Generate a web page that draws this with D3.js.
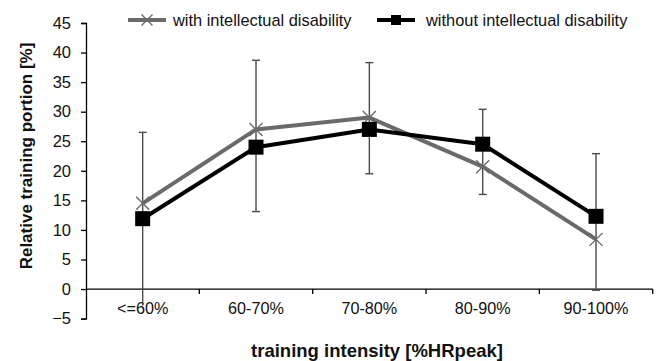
<!DOCTYPE html>
<html>
<head>
<meta charset="utf-8">
<script src="https://cdn.jsdelivr.net/npm/d3@7"></script>
<style>
  html, body { margin: 0; padding: 0; background: #fff; }
  svg { display: block; font-family: "Liberation Sans", Arial, sans-serif; }
</style>
</head>
<body>
<svg id="chart" width="660" height="361"></svg>
<script>
// Training intensity zones
const categories = ["<=60%", "60-70%", "70-80%", "80-90%", "90-100%"];

// Relative training portion [%] per zone
const withID = [14.5, 27.0, 29.0, 20.7, 8.4];
const withoutID = [11.9, 24.0, 27.0, 24.5, 12.3];

// Standard deviation whiskers (lower / upper end)
const errLow = [-2.8, 13.1, 19.5, 16.0, -0.2];
const errHigh = [26.5, 38.7, 38.3, 30.4, 22.9];

const yTicks = [-5, 0, 5, 10, 15, 20, 25, 30, 35, 40, 45];
const seriesNames = ["with intellectual disability", "without intellectual disability"];

const svg = d3.select("#chart");
const plotLeft = 86, plotRight = 652.7, plotTop = 23, plotBottom = 318.6;

const x = d3.scaleBand().domain(categories).range([plotLeft, plotRight]);
const y = d3.scaleLinear().domain([-5, 45]).range([plotBottom, plotTop]);
const cx = d => x(d) + x.bandwidth() / 2;

const grayLine = "#6a6a6a";
const errColor = "#4a4a4a";

// y axis
const yAxis = svg.append("g")
  .attr("transform", `translate(${plotLeft},0)`)
  .call(d3.axisLeft(y).tickValues(yTicks).tickSize(5).tickPadding(10)
    .tickFormat(d => d < 0 ? "\u2212" + Math.abs(d) : d));
yAxis.select(".domain").attr("stroke", "#000").attr("stroke-width", 1.3);
yAxis.selectAll(".tick line").attr("stroke", "#000").attr("stroke-width", 1.3);
yAxis.selectAll(".tick text").attr("font-size", 16.5).attr("fill", "#111");

// x axis along zero line, ticks at band boundaries
const xAxisG = svg.append("g").attr("transform", `translate(0,${y(0)})`);
xAxisG.append("line").attr("x1", plotLeft).attr("x2", plotRight)
  .attr("stroke", "#000").attr("stroke-width", 1.3);
const bounds = categories.map(c => x(c) + x.bandwidth());
xAxisG.selectAll("line.tk").data(bounds).join("line").attr("class", "tk")
  .attr("x1", d => d).attr("x2", d => d).attr("y1", 0).attr("y2", 5)
  .attr("stroke", "#000").attr("stroke-width", 1.3);
xAxisG.selectAll("text").data(categories).join("text")
  .attr("x", d => cx(d)).attr("y", 24.5)
  .attr("text-anchor", "middle").attr("font-size", 16.2).attr("fill", "#111")
  .text(d => d);

// error bars
const eb = svg.append("g").attr("stroke", errColor).attr("stroke-width", 1.4);
categories.forEach((c, i) => {
  eb.append("line").attr("x1", cx(c)).attr("x2", cx(c))
    .attr("y1", y(errLow[i])).attr("y2", y(errHigh[i]));
  eb.append("line").attr("x1", cx(c) - 4).attr("x2", cx(c) + 4)
    .attr("y1", y(errHigh[i])).attr("y2", y(errHigh[i]));
  if (i > 0) {
    eb.append("line").attr("x1", cx(c) - 4).attr("x2", cx(c) + 4)
      .attr("y1", y(errLow[i])).attr("y2", y(errLow[i]));
  }
});

const line = d3.line().x((d, i) => cx(categories[i])).y(d => y(d));

// series with intellectual disability: gray line, cross markers
svg.append("path").datum(withID).attr("d", line)
  .attr("fill", "none").attr("stroke", grayLine).attr("stroke-width", 4)
  .attr("stroke-linejoin", "round");

// series without intellectual disability: black line, square markers
svg.append("path").datum(withoutID).attr("d", line)
  .attr("fill", "none").attr("stroke", "#000").attr("stroke-width", 4)
  .attr("stroke-linejoin", "round");

const crossPath = s => `M${-s},${-s}L${s},${s}M${-s},${s}L${s},${-s}`;
svg.append("g").selectAll("path").data(withID).join("path")
  .attr("transform", (d, i) => `translate(${cx(categories[i])},${y(d)})`)
  .attr("d", crossPath(6.5)).attr("stroke", grayLine).attr("stroke-width", 1.4).attr("fill", "none");

svg.append("g").selectAll("rect").data(withoutID).join("rect")
  .attr("x", (d, i) => cx(categories[i]) - 7.5).attr("y", d => y(d) - 7.5)
  .attr("width", 15).attr("height", 15).attr("fill", "#000");

// legend
const lg = svg.append("g");
lg.append("line").attr("x1", 128).attr("x2", 166).attr("y1", 20).attr("y2", 20)
  .attr("stroke", grayLine).attr("stroke-width", 4);
lg.append("path").attr("transform", "translate(147,20)").attr("d", crossPath(5.5))
  .attr("stroke", grayLine).attr("stroke-width", 1.4);
lg.append("text").attr("x", 173).attr("y", 26).attr("font-size", 16.4).attr("fill", "#111")
  .text(seriesNames[0]);
lg.append("line").attr("x1", 377).attr("x2", 415).attr("y1", 20).attr("y2", 20)
  .attr("stroke", "#000").attr("stroke-width", 4);
lg.append("rect").attr("x", 391).attr("y", 15).attr("width", 10).attr("height", 10).attr("fill", "#000");
lg.append("text").attr("x", 426).attr("y", 26).attr("font-size", 16.4).attr("fill", "#111")
  .text(seriesNames[1]);

// axis titles
svg.append("text").attr("transform", "translate(32,156) rotate(-90)")
  .attr("text-anchor", "middle").attr("font-size", 17).attr("font-weight", "bold").attr("fill", "#111")
  .text("Relative training portion [%]");
svg.append("text").attr("x", 377).attr("y", 357)
  .attr("text-anchor", "middle").attr("font-size", 18.5).attr("font-weight", "bold").attr("fill", "#111")
  .text("training intensity [%HRpeak]");
</script>
</body>
</html>
